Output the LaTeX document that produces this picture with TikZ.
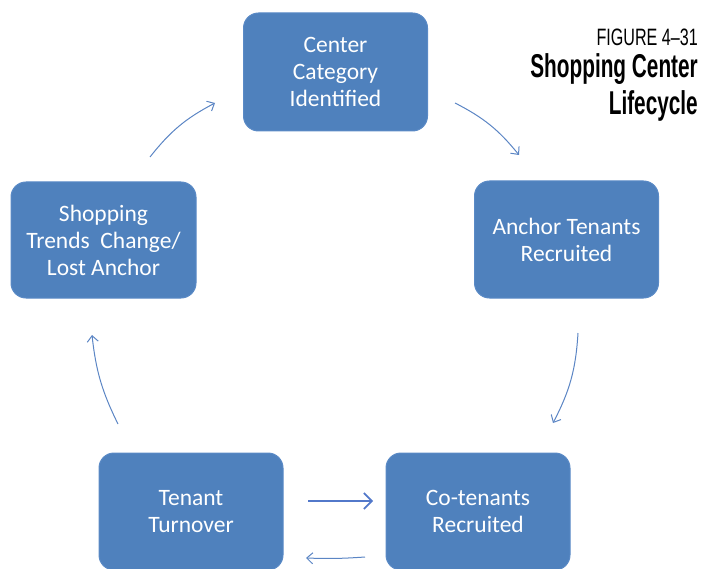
\documentclass[tikz,border=0pt]{standalone}
\usepackage{fontspec}
\setmainfont{Carlito}
\newfontfamily\titlefont{Liberation Sans}
\usetikzlibrary{arrows.meta}
\definecolor{boxblue}{HTML}{4F81BD}
\definecolor{boxedge}{HTML}{5A8AC6}
\definecolor{arrblue}{HTML}{5B85C4}
\begin{document}
\begin{tikzpicture}[x=1pt,y=-1pt,
  stagebox/.style={draw=boxedge,line width=1pt,fill=boxblue,rounded corners=15pt,
    text=white,align=center,font=\fontsize{23.5}{27}\selectfont,inner sep=0pt},
  cyc/.style={draw=arrblue,line width=1pt,-{Straight Barb[length=6pt,width=11pt,line width=1pt]}},
  bigarr/.style={draw=arrblue!90!blue,line width=1.6pt,-{Straight Barb[length=8pt,width=16pt,line width=1.6pt]}}]
\useasboundingbox (0,0) rectangle (701,569);
\node[stagebox,minimum width=184pt,minimum height=118pt] (cat) at (335.5,72) {Center\\Category\\Identified};
\node[stagebox,minimum width=184pt,minimum height=117pt] (anc) at (566.5,239.5) {Anchor Tenants\\Recruited};
\node[stagebox,minimum width=184pt,minimum height=117pt] (cot) at (478,511.5) {Co-tenants\\Recruited};
\node[stagebox,minimum width=184pt,minimum height=117pt] (tur) at (191,511.5) {Tenant\\Turnover};
\node[stagebox,minimum width=185pt,minimum height=116pt] (trd) at (103.5,240) {Shopping\\Trends~~Change/\\Lost Anchor};
% free ends of the cycle arrows
\coordinate (a1s) at (150,157); \coordinate (a1e) at (215,103);
\coordinate (a2s) at (455,103); \coordinate (a2e) at (519,155);
\coordinate (a3s) at (578,333); \coordinate (a3e) at (553,423);
\coordinate (a4s) at (308,501); \coordinate (a4e) at (373,501);
\coordinate (a5s) at (365,557); \coordinate (a5e) at (306,558);
\coordinate (a6s) at (118,424); \coordinate (a6e) at (92,335);
\draw[cyc] (a1s) to[bend left=12] (a1e);
\draw[cyc] (a2s) to[bend left=12] (a2e);
\draw[cyc] (a3s) to[bend left=12] (a3e);
\draw[bigarr] (a4s) -- (a4e);
\draw[cyc] (a5s) to[bend left=3] (a5e);
\draw[cyc] (a6s) to[bend left=10] (a6e);
% title
\node[anchor=north east,inner sep=0pt] (fig) at (698,29) {\scalebox{0.68}[1]{\titlefont\fontsize{23.7}{23.7}\selectfont FIGURE 4–31}};
\node[anchor=north east,inner sep=0pt,align=right] (ttl) at (698,51) {\scalebox{0.63}[1]{\titlefont\bfseries\fontsize{33}{37}\selectfont\begin{tabular}{@{}r@{}}Shopping Center\\Lifecycle\end{tabular}}};
\end{tikzpicture}
\end{document}
